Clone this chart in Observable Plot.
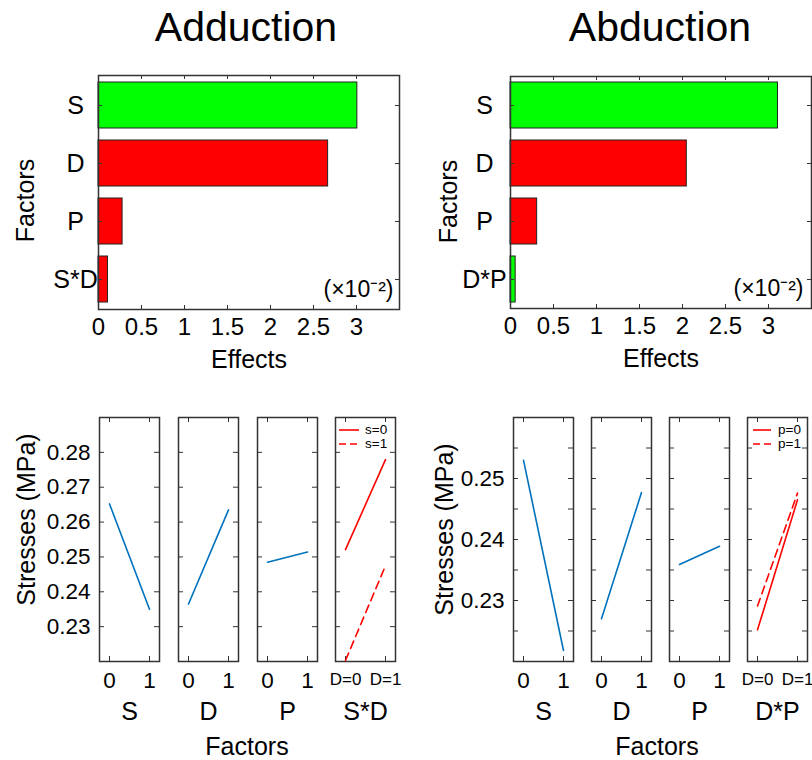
<!DOCTYPE html>
<html>
<head>
<meta charset="utf-8">
<script src="https://cdn.jsdelivr.net/npm/d3@7"></script>
<script src="https://cdn.jsdelivr.net/npm/@observablehq/plot@0.6"></script>
<style>
  body { margin: 0; background: #fff; }
  #wrap { position: relative; width: 812px; height: 760px; overflow: hidden; background: #fff;
          font-family: "Liberation Sans", Arial, Helvetica, sans-serif; color: #000; }
  .htext { position: absolute; text-align: center; white-space: nowrap; }
  .legend { position: absolute; font-size: 13.5px; line-height: 14px; }
  .legend .row { display: flex; align-items: center; height: 14.3px; }
  .legend svg { display: block; }
</style>
</head>
<body>
<div id="wrap"></div>
<script>
// ---------- data ----------
const titles = ["Adduction", "Abduction"];
const effectLabel = "Effects";
const factorLabel = "Factors";
const stressLabel = "Stresses (MPa)";
const scaleNote = "(×10⁻²)";

// top row: signed effects (in units of 10^-2); sign decides the colour
const addFactors = ["S", "D", "P", "S*D"];
const addEffects = [-3.01, 2.67, 0.28, 0.11];
const abdFactors = ["S", "D", "P", "D*P"];
const abdEffects = [-3.11, 2.05, 0.31, -0.06];
const effectTicks = [0, 0.5, 1, 1.5, 2, 2.5, 3];

// bottom row: mean stresses at levels 0 and 1
const levels = [0, 1];
const levelTicks = ["0", "1"];
const interTicks = ["D=0", "D=1"];
const mainFactors = ["S", "D", "P"];

const addS = [0.2652, 0.2350];
const addD = [0.2365, 0.2635];
const addP = [0.2485, 0.2514];
const addSD_s0 = [0.2521, 0.2779];
const addSD_s1 = [0.2203, 0.2475];
const addLegend = ["s=0", "s=1"];
const addYTicks = [0.23, 0.24, 0.25, 0.26, 0.27, 0.28];
const addYLabels = [0.23, 0.24, 0.25, 0.26, 0.27, 0.28];

const abdS = [0.2530, 0.2218];
const abdD = [0.2270, 0.2477];
const abdP = [0.2359, 0.2389];
const abdDP_p0 = [0.2252, 0.2465];
const abdDP_p1 = [0.2291, 0.2476];
const abdLegend = ["p=0", "p=1"];
const abdYTicks = [0.225, 0.23, 0.235, 0.24, 0.245, 0.25, 0.255];
const abdYLabels = [0.23, 0.24, 0.25];

// ---------- helpers ----------
const FONT = '"Liberation Sans", Arial, Helvetica, sans-serif';
const FRAME = "#333";
const BLUE = "#0072BD";
const RED = "#ff0000";
const wrap = document.getElementById("wrap");

function place(node, left, top) {
  node.style.position = "absolute";
  node.style.left = left + "px";
  node.style.top = top + "px";
  wrap.appendChild(node);
}
function htext(str, cx, baseline, size) {
  const d = document.createElement("div");
  d.className = "htext";
  d.textContent = str;
  d.style.fontSize = size + "px";
  d.style.lineHeight = size + "px";
  d.style.width = "300px";
  d.style.left = (cx - 150) + "px";
  d.style.top = (baseline - size * 0.847) + "px";
  wrap.appendChild(d);
}
const baseStyle = {fontFamily: FONT, fontSize: "24px", background: "transparent", overflow: "visible", color: "#000"};

function barChart(factors, effects, o) {
  const rows = factors.map((f, i) => ({factor: f, effect: Math.abs(effects[i]), sign: effects[i] < 0 ? "decrease" : "increase"}));
  const fw = o.width - o.ml - o.mr, fh = o.height - o.mt - o.mb;
  return Plot.plot({
    width: o.width, height: o.height,
    marginLeft: o.ml, marginRight: o.mr, marginTop: o.mt, marginBottom: o.mb,
    style: baseStyle,
    x: {domain: [0, 3.5], axis: null},
    y: {type: "band", domain: factors, paddingInner: 0.2, paddingOuter: 0.1, axis: null},
    color: {domain: ["decrease", "increase"], range: ["#00ff00", "#ff0000"]},
    marks: [
      Plot.barX(rows, {x: "effect", y: "factor", fill: "sign", stroke: "#222", strokeWidth: 1}),
      Plot.frame({stroke: FRAME, strokeWidth: 1.5}),
      Plot.tickX(effectTicks, {x: d => d, insetTop: fh - 4, stroke: FRAME}),
      Plot.tickX(effectTicks, {x: d => d, insetBottom: fh - 4, stroke: FRAME}),
      Plot.tickY(factors, {y: d => d, insetRight: fw - 4, stroke: FRAME}),
      Plot.tickY(factors, {y: d => d, insetLeft: fw - 4, stroke: FRAME}),
      Plot.axisX({ticks: effectTicks, anchor: "bottom", tickSize: 0, tickPadding: 8, fontSize: 24,
                  tickFormat: d => String(d), label: null}),
      Plot.axisY({anchor: "left", tickSize: 0, tickPadding: o.yPad, textAnchor: "middle", fontSize: 25, label: null}),
      Plot.text([effectLabel], {text: d => d, frameAnchor: "bottom", lineAnchor: "bottom", dy: 58, fontSize: 25}),
      Plot.text([factorLabel], {text: d => d, frameAnchor: "left", lineAnchor: "middle", textAnchor: "middle",
                                rotate: -90, dx: o.fdx, dy: o.fdy, fontSize: 25}),
      Plot.text([scaleNote], {text: d => d, frameAnchor: "bottom-right", textAnchor: "end", lineAnchor: "bottom",
                              dx: o.ndx, dy: -13, fontSize: 23})
    ]
  });
}

function linePanel(o) {
  const fw = 60, fh = 244;
  const mr = 12;
  const marks = [
    Plot.frame({stroke: FRAME, strokeWidth: 1.5}),
    Plot.tickY(o.yTicks, {y: d => d, insetRight: fw - 5, stroke: FRAME}),
    Plot.tickY(o.yTicks, {y: d => d, insetLeft: fw - 5, stroke: FRAME}),
    Plot.tickX(levels, {x: d => d, insetTop: fh - 5, stroke: FRAME}),
    Plot.tickX(levels, {x: d => d, insetBottom: fh - 5, stroke: FRAME})
  ];
  for (const s of o.series) {
    marks.push(Plot.line(levels.map((x, i) => ({x, y: s.values[i]})),
      {x: "x", y: "y", stroke: s.color, strokeWidth: 1.6, strokeDasharray: s.dashed ? "8,5" : null}));
  }
  marks.push(
    Plot.axisX({ticks: levels, anchor: "bottom", tickSize: 0, tickPadding: 11,
                tickFormat: d => o.tickLabels[levels.indexOf(d)], fontSize: o.tickFont, label: null}),
    Plot.text([o.factor], {text: d => d, frameAnchor: "bottom", lineAnchor: "bottom", dy: 58, fontSize: 25})
  );
  if (o.showY) {
    marks.push(
      Plot.axisY({ticks: o.yLabels, anchor: "left", tickSize: 0, tickPadding: 9,
                  tickFormat: d3.format(".2f"), fontSize: 22.5, label: null}),
      Plot.text([stressLabel], {text: d => d, frameAnchor: "left", lineAnchor: "middle", textAnchor: "middle",
                                rotate: -90, dx: o.sdx, dy: o.sdy, fontSize: 25})
    );
  }
  const chart = Plot.plot({
    width: o.ml + fw + mr, height: 360,
    marginLeft: o.ml, marginRight: mr, marginTop: 17, marginBottom: 99,
    style: baseStyle,
    x: {domain: [-0.25, 1.25], axis: null},
    y: {domain: o.yDomain, axis: null},
    marks
  });
  place(chart, o.frameLeft - o.ml, 400);
}

function legend(labels, left, lineW, gap) {
  const d = document.createElement("div");
  d.className = "legend";
  labels.forEach((lab, i) => {
    const row = document.createElement("div");
    row.className = "row";
    const ns = "http://www.w3.org/2000/svg";
    const svg = document.createElementNS(ns, "svg");
    svg.setAttribute("width", lineW);
    svg.setAttribute("height", 14);
    const ln = document.createElementNS(ns, "line");
    ln.setAttribute("x1", 0); ln.setAttribute("x2", lineW);
    ln.setAttribute("y1", 7); ln.setAttribute("y2", 7);
    ln.setAttribute("stroke", RED); ln.setAttribute("stroke-width", 1.6);
    if (i === 1) ln.setAttribute("stroke-dasharray", "7,4");
    svg.appendChild(ln);
    const sp = document.createElement("span");
    sp.textContent = lab;
    sp.style.marginLeft = gap + "px";
    row.appendChild(svg); row.appendChild(sp);
    d.appendChild(row);
  });
  place(d, left, 423);
}

// ---------- titles ----------
htext(titles[0], 246, 42, 41);
htext(titles[1], 660, 42, 41);

// ---------- top row ----------
place(barChart(addFactors, addEffects, {width: 410, height: 340, ml: 98, mr: 11, mt: 35, mb: 71, yPad: 23, fdx: -73, fdy: 8, ndx: -6}), 0, 40);
place(barChart(abdFactors, abdEffects, {width: 402, height: 340, ml: 100, mr: 1, mt: 36, mb: 72, yPad: 26, fdx: -62, fdy: 9, ndx: -8}), 410, 40);

// ---------- bottom row: Adduction ----------
const addFrames = [99, 178, 257, 335];
const addMain = [addS, addD, addP];
mainFactors.forEach((f, i) => linePanel({
  frameLeft: addFrames[i], ml: i === 0 ? 99 : 12, showY: i === 0, sdx: -73, sdy: -20,
  yDomain: [0.22, 0.29], yTicks: addYTicks, yLabels: addYLabels,
  series: [{values: addMain[i], color: BLUE}], factor: f, tickLabels: levelTicks, tickFont: 22.5
}));
linePanel({
  frameLeft: addFrames[3], ml: 12, showY: false,
  yDomain: [0.22, 0.29], yTicks: addYTicks, yLabels: addYLabels,
  series: [{values: addSD_s0, color: RED}, {values: addSD_s1, color: RED, dashed: true}],
  factor: addFactors[3], tickLabels: interTicks, tickFont: 17
});
legend(addLegend, 339, 20, 6);
htext(factorLabel, 247, 755, 25);

// ---------- bottom row: Abduction ----------
const abdFrames = [513, 591, 669, 747];
const abdMain = [abdS, abdD, abdP];
mainFactors.forEach((f, i) => linePanel({
  frameLeft: abdFrames[i], ml: i === 0 ? 100 : 12, showY: i === 0, sdx: -69, sdy: -10,
  yDomain: [0.22, 0.26], yTicks: abdYTicks, yLabels: abdYLabels,
  series: [{values: abdMain[i], color: BLUE}], factor: f, tickLabels: levelTicks, tickFont: 22.5
}));
linePanel({
  frameLeft: abdFrames[3], ml: 12, showY: false,
  yDomain: [0.22, 0.26], yTicks: abdYTicks, yLabels: abdYLabels,
  series: [{values: abdDP_p0, color: RED}, {values: abdDP_p1, color: RED, dashed: true}],
  factor: abdFactors[3], tickLabels: interTicks, tickFont: 17
});
legend(abdLegend, 753, 18, 7);
htext(factorLabel, 657, 755, 25);
</script>
</body>
</html>
